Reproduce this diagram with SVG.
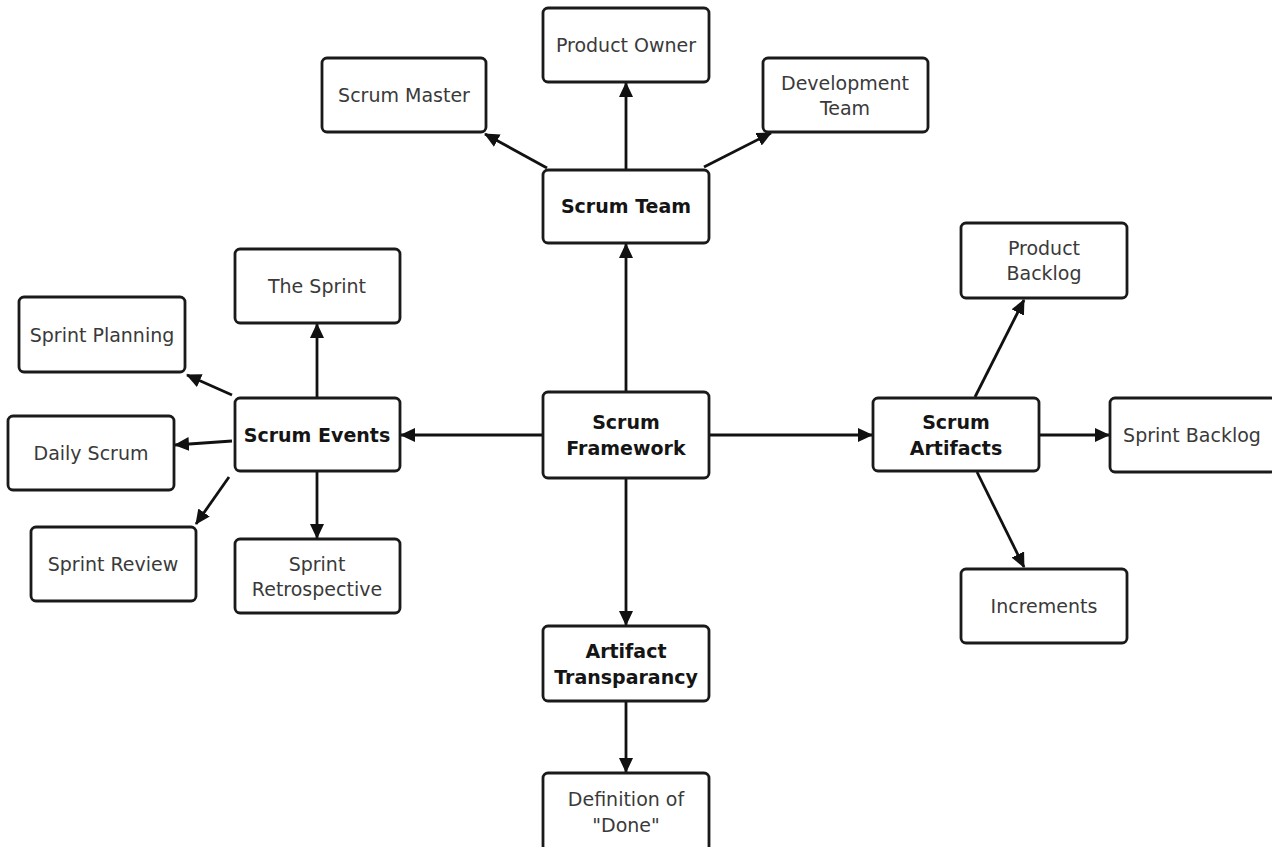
<svg xmlns="http://www.w3.org/2000/svg" width="1272" height="847" viewBox="0 0 1272 847">
<style>
.box{fill:#fff;stroke:#1a1a1a;stroke-width:2.8}
.t{font-family:"DejaVu Sans",Verdana,sans-serif;font-size:19px;fill:#3a3a3a;text-anchor:middle;dominant-baseline:central}
.b{font-weight:bold;fill:#151515}
.c{stroke:#111;stroke-width:2.8;fill:none;marker-end:url(#ah)}
</style>
<defs>
<marker id="ah" markerUnits="userSpaceOnUse" markerWidth="18" markerHeight="16" refX="14" refY="7" orient="auto">
<path d="M0,0 L15,7 L0,14 Z" fill="#111"/>
</marker>
</defs>
<rect width="1272" height="847" fill="#fff"/>
<g id="connectors">
<line class="c" x1="626" y1="392" x2="626" y2="244"/>
<line class="c" x1="626" y1="170" x2="626" y2="83"/>
<line class="c" x1="547" y1="168" x2="485" y2="134"/>
<line class="c" x1="704" y1="167" x2="771" y2="133"/>
<line class="c" x1="543" y1="435" x2="401" y2="435"/>
<line class="c" x1="317" y1="398" x2="317" y2="324"/>
<line class="c" x1="232" y1="395" x2="187" y2="375"/>
<line class="c" x1="232" y1="441" x2="175" y2="445"/>
<line class="c" x1="229" y1="477" x2="196" y2="524"/>
<line class="c" x1="317" y1="471" x2="317" y2="538"/>
<line class="c" x1="709" y1="435" x2="872" y2="435"/>
<line class="c" x1="975" y1="397" x2="1024" y2="300"/>
<line class="c" x1="1039" y1="435" x2="1109" y2="435"/>
<line class="c" x1="977" y1="472" x2="1024" y2="567"/>
<line class="c" x1="626" y1="478" x2="626" y2="625"/>
<line class="c" x1="626" y1="701" x2="626" y2="772"/>
</g>
<g id="framework"><rect class="box" x="543" y="392" width="166" height="86" rx="5"/><text class="t b" x="626" y="422">Scrum</text><text class="t b" x="626" y="448">Framework</text></g>
<g id="team"><rect class="box" x="543" y="170" width="166" height="73" rx="5"/><text class="t b" x="626" y="206">Scrum Team</text></g>
<g id="owner"><rect class="box" x="543" y="8" width="166" height="74" rx="5"/><text class="t" x="626" y="45">Product Owner</text></g>
<g id="master"><rect class="box" x="322" y="58" width="164" height="74" rx="5"/><text class="t" x="404" y="95">Scrum Master</text></g>
<g id="devteam"><rect class="box" x="763" y="58" width="165" height="74" rx="5"/><text class="t" x="845" y="83">Development</text><text class="t" x="845" y="108">Team</text></g>
<g id="events"><rect class="box" x="235" y="398" width="165" height="73" rx="5"/><text class="t b" x="317" y="435">Scrum Events</text></g>
<g id="sprint"><rect class="box" x="235" y="249" width="165" height="74" rx="5"/><text class="t" x="317" y="286">The Sprint</text></g>
<g id="planning"><rect class="box" x="19" y="297" width="166" height="75" rx="5"/><text class="t" x="102" y="335">Sprint Planning</text></g>
<g id="daily"><rect class="box" x="8" y="416" width="166" height="74" rx="5"/><text class="t" x="91" y="453">Daily Scrum</text></g>
<g id="review"><rect class="box" x="31" y="527" width="165" height="74" rx="5"/><text class="t" x="113" y="564">Sprint Review</text></g>
<g id="retro"><rect class="box" x="235" y="539" width="165" height="74" rx="5"/><text class="t" x="317" y="564">Sprint</text><text class="t" x="317" y="589">Retrospective</text></g>
<g id="artifacts"><rect class="box" x="873" y="398" width="166" height="73" rx="5"/><text class="t b" x="956" y="422">Scrum</text><text class="t b" x="956" y="448">Artifacts</text></g>
<g id="pbacklog"><rect class="box" x="961" y="223" width="166" height="75" rx="5"/><text class="t" x="1044" y="248">Product</text><text class="t" x="1044" y="273">Backlog</text></g>
<g id="sbacklog"><rect class="box" x="1110" y="398" width="166" height="74" rx="5"/><text class="t" x="1192" y="435">Sprint Backlog</text></g>
<g id="increments"><rect class="box" x="961" y="569" width="166" height="74" rx="5"/><text class="t" x="1044" y="606">Increments</text></g>
<g id="transparency"><rect class="box" x="543" y="626" width="166" height="75" rx="5"/><text class="t b" x="626" y="651">Artifact</text><text class="t b" x="626" y="677">Transparancy</text></g>
<g id="done"><rect class="box" x="543" y="773" width="166" height="78" rx="5"/><text class="t" x="626" y="799">Definition of</text><text class="t" x="626" y="825">"Done"</text></g>
</svg>
